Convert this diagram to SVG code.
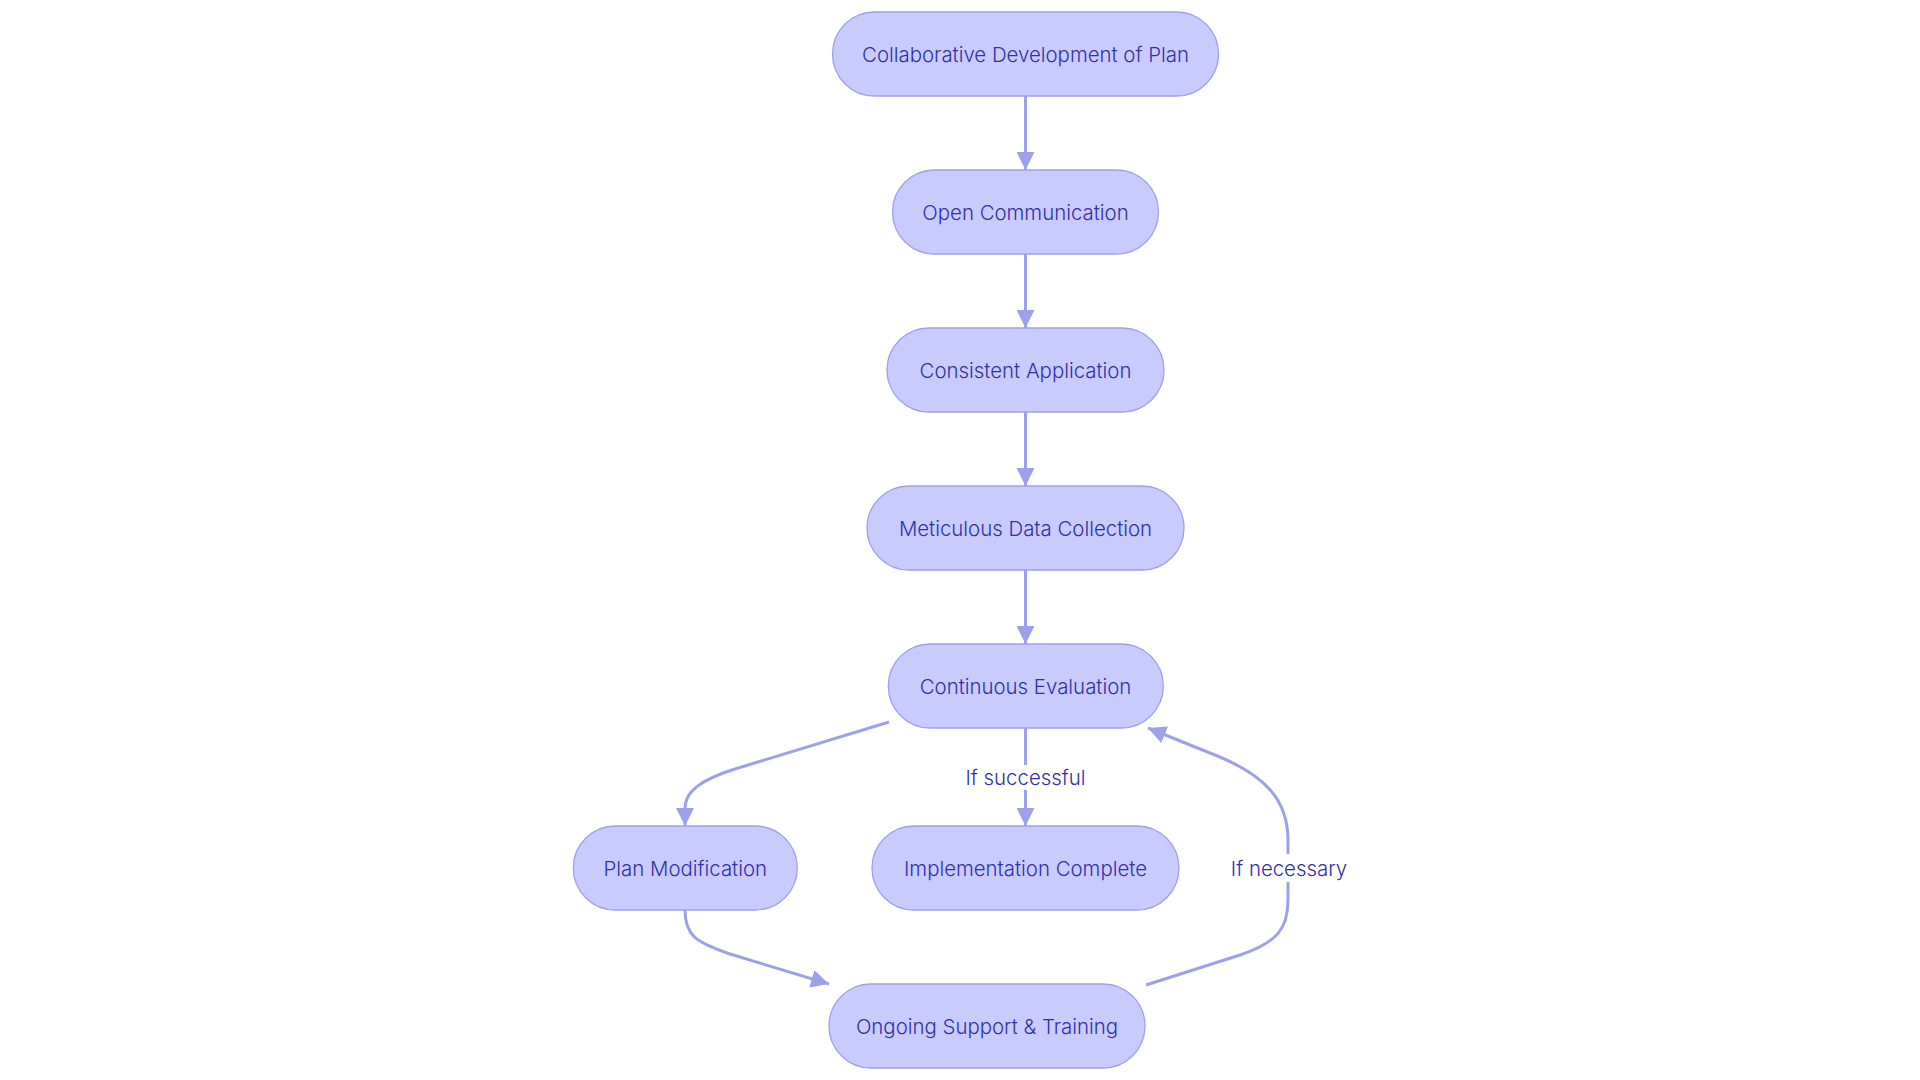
<svg xmlns="http://www.w3.org/2000/svg" width="1920" height="1080" viewBox="0 0 1920 1080">
<defs>
<style>
.node rect{fill:#C9CBFF;stroke:#9DA1EC;stroke-width:1.3}
.node text,.elabel text{font-family:Inter,"Noto Sans","DejaVu Sans",sans-serif;font-size:20.4px;font-weight:340;fill:#3030AE;text-anchor:middle;dominant-baseline:central}
.edges path{fill:none;stroke:#9DA1EC;stroke-width:3}
.elabel rect{fill:#FFFFFF}
</style>
<marker id="arrow" viewBox="0 0 10 10" refX="10" refY="5" markerUnits="userSpaceOnUse" markerWidth="18" markerHeight="18" orient="auto">
<path d="M0,0 L10,5 L0,10 z" fill="#9DA1EC"/>
</marker>
</defs>
<rect width="1920" height="1080" fill="#FFFFFF"/>
<g id="edges" class="edges">
<path d="M1025.5,96 L1025.5,170" marker-end="url(#arrow)"/>
<path d="M1025.5,254 L1025.5,328" marker-end="url(#arrow)"/>
<path d="M1025.5,412 L1025.5,486" marker-end="url(#arrow)"/>
<path d="M1025.5,570 L1025.5,644" marker-end="url(#arrow)"/>
<path d="M1025.5,728 L1025.5,826" marker-end="url(#arrow)"/>
<path d="M889,722 L735,769 C700,780 685,792 685,808 L685,826" marker-end="url(#arrow)"/>
<path d="M685,910 C685,935 695,942 730,954 L829,984" marker-end="url(#arrow)"/>
<path d="M1146,985 L1240,955 C1278,942 1288,928 1288,900 L1288,840 C1288,800 1265,775 1215,755 L1148,728" marker-end="url(#arrow)"/>
</g>
<g id="label-successful" class="elabel">
<rect x="965" y="765" width="121" height="25"/>
<text x="1025.5" y="777.5">If successful</text>
</g>
<g id="label-necessary" class="elabel">
<rect x="1231" y="854" width="116" height="28"/>
<text x="1289" y="868">If necessary</text>
</g>
<g id="n1" class="node"><rect x="832.5" y="12" width="386" height="84" rx="42"/><text x="1025.5" y="54">Collaborative Development of Plan</text></g>
<g id="n2" class="node"><rect x="892.5" y="170" width="266" height="84" rx="42"/><text x="1025.5" y="212">Open Communication</text></g>
<g id="n3" class="node"><rect x="887" y="328" width="277" height="84" rx="42"/><text x="1025.5" y="370">Consistent Application</text></g>
<g id="n4" class="node"><rect x="867" y="486" width="317" height="84" rx="42"/><text x="1025.5" y="528">Meticulous Data Collection</text></g>
<g id="n5" class="node"><rect x="888.3" y="644" width="275" height="84" rx="42"/><text x="1025.5" y="686">Continuous Evaluation</text></g>
<g id="n6" class="node"><rect x="573.3" y="826" width="224" height="84" rx="42"/><text x="685.3" y="868">Plan Modification</text></g>
<g id="n7" class="node"><rect x="872" y="826" width="307" height="84" rx="42"/><text x="1025.5" y="868">Implementation Complete</text></g>
<g id="n8" class="node"><rect x="829" y="984" width="316" height="84" rx="42"/><text x="987" y="1026">Ongoing Support &amp; Training</text></g>
</svg>
